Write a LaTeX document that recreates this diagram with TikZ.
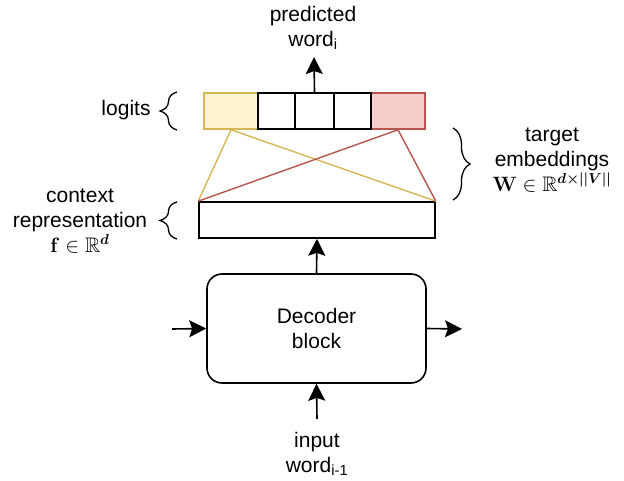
\documentclass[tikz,border=0pt]{standalone}
\usepackage{amsmath}
\usepackage{amssymb}
\usepackage{bm}
\usepackage[no-math]{fontspec}
\setmainfont{Liberation Sans}
\usetikzlibrary{positioning,arrows.meta,decorations.pathreplacing}

\definecolor{yfill}{HTML}{FFF2CC}
\definecolor{yline}{HTML}{D6B656}
\definecolor{rfill}{HTML}{F8CECC}
\definecolor{rline}{HTML}{B85450}

\begin{document}
\begin{tikzpicture}[x=1pt,y=-1pt,
    every node/.style={font=\fontsize{21}{25}\selectfont},
    cell/.style={draw,line width=1.6pt,inner sep=0pt,minimum height=36pt},
    txt/.style={align=center},
    arr/.style={-{Stealth[length=17pt,width=17pt,inset=3pt]},line width=1.6pt},
    brc/.style={decorate,decoration={brace,amplitude=17pt},line width=1.3pt}]
    \useasboundingbox (0,0) rectangle (624,481);

    % logits
    \node[cell,fill=yfill,draw=yline,minimum width=54pt] (l1) at (231,111) {};
    \node[cell,fill=rfill,draw=rline,minimum width=54pt] (l5) at (398,111) {};
    \node[cell,minimum width=37pt] (l2) at (276.5,111) {};
    \node[cell,minimum width=39pt] (l3) at (314.5,111) {};
    \node[cell,minimum width=37pt] (l4) at (352.5,111) {};

    % context vector and decoder
    \node[cell,minimum width=236pt] (ctx) at (317,220) {};
    \node[draw,txt,rounded corners=15pt,line width=1.6pt,
        minimum width=219pt,minimum height=109pt] (dec) at (316.5,328.5)
        {Decoder\\block};

    \draw[yline,line width=1.4pt] (l1.south) -- (ctx.north west)
        (l1.south) -- (ctx.north east);
    \draw[rline,line width=1.4pt] (l5.south) -- (ctx.north west)
        (l5.south) -- (ctx.north east);

    % labels
    \node[txt] (pred) at (313,28) {predicted\\word\textsubscript{i}};
    \node[txt] (inp) at (317,454) {input\\word\textsubscript{i-1}};
    \node (lgt) at (126,110) {logits};
    \node[txt] (ctxlab) at (80,221)
        {context\\representation\\$\mathbf{f}\in\mathbb{R}^{\bm{d}}$};
    \node[txt] (tgt) at (552,160)
        {target\\embeddings\\$\mathbf{W}\in\mathbb{R}^{\bm{d\times||V||}}$};

    \coordinate (top) at (314,57);
    \coordinate (inl) at (172,329);
    \coordinate (outr) at (462,329);
    \coordinate (inb) at (317,419);
    \draw[arr] (l3.north) -- (top);
    \draw[arr] (dec.north) -- (ctx.south);
    \draw[arr] (inl) -- (dec.west);
    \draw[arr] (dec.east) -- (outr);
    \draw[arr] (inb) -- (dec.south);

    % braces
    \draw[brc] (177,130) -- (177,92);
    \draw[brc] (177,239) -- (177,202);
    \draw[brc] (453,128) -- (453,200);
\end{tikzpicture}
\end{document}
